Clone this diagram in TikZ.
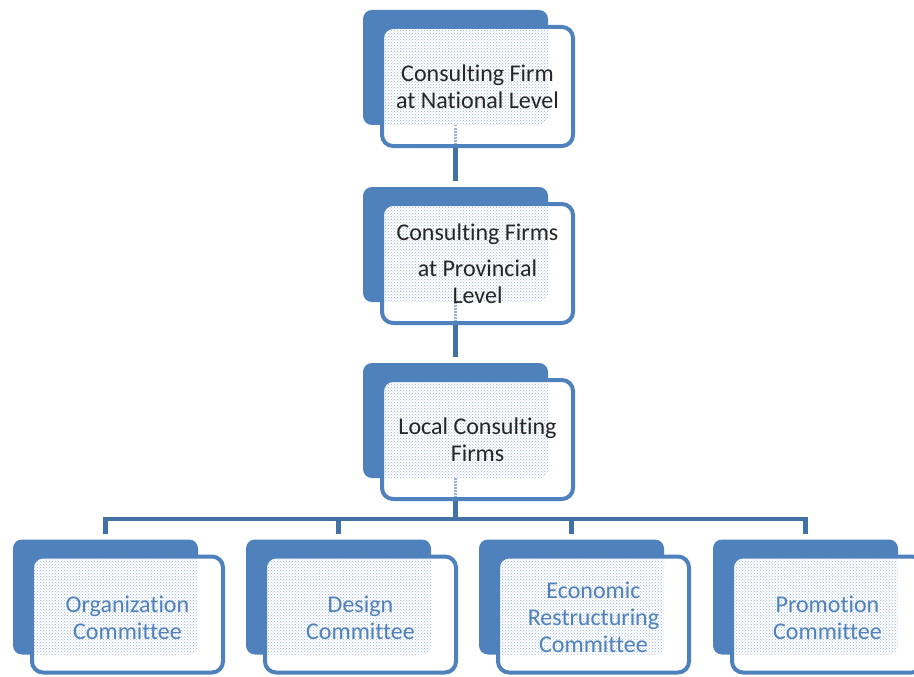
\documentclass[tikz,border=0pt]{standalone}
\usepackage{fontspec}
\setmainfont{Carlito}[Ligatures={NoCommon,NoContextual}]
\usetikzlibrary{patterns}
\definecolor{boxblue}{RGB}{79,129,189}
\definecolor{linkblue}{RGB}{66,114,165}
\definecolor{dotblue}{RGB}{150,180,220}
\definecolor{txtdark}{RGB}{38,38,38}
\tikzset{
  backbox/.style={rectangle, rounded corners=9pt, fill=boxblue, minimum width=185pt, minimum height=115pt, inner sep=0pt, outer sep=0pt},
  frontbox/.style={rectangle, rounded corners=11pt, draw=boxblue, line width=4pt, fill=white, minimum width=191pt, minimum height=#1, inner sep=0pt},
  frontbox/.default=119pt,
  link/.style={draw=linkblue, line width=4.5pt},
  innerlink/.style={draw=dotblue, line width=3pt, dash pattern=on 1.5pt off 1.5pt},
  dots/.style={pattern=crosshatch dots, pattern color=dotblue},
  label/.style={align=center, inner sep=0pt, font=\fontsize{24pt}{27pt}\selectfont},
  darktext/.style={label, text=txtdark},
  bluetext/.style={label, text=boxblue, yshift=-3pt},
}
% #1 name, #2 back x, #3 back y, #4 front min height, #5 front y offset
\newcommand\orgunit[5]{%
  \node[backbox] (#1b) at (#2,#3) {};
  \node[frontbox=#4] (#1) at (#2+22,#3+#5) {};
  \begin{scope}
    \clip[rounded corners=8pt] ([shift={(4pt,4pt)}]#1.south west) rectangle ([shift={(-4pt,-4pt)}]#1.north east);
    \fill[dots, rounded corners=9pt] (#1b.south west) rectangle (#1b.north east);
  \end{scope}
}
\begin{document}
\begin{tikzpicture}[x=1pt, y=-1pt]
\clip (0,0) rectangle (914,677);
\fill[white] (0,0) rectangle (914,677);

\orgunit{u1}{455.5}{67.5}{119pt}{19}
\orgunit{u2}{455.5}{244.5}{119pt}{19}
\orgunit{u3}{455.5}{420.5}{119pt}{19}
\orgunit{u4}{105.5}{597}{116pt}{17.5}
\orgunit{u5}{338.5}{597}{116pt}{17.5}
\orgunit{u6}{571.5}{597}{116pt}{17.5}
\orgunit{u7}{805.5}{597}{116pt}{17.5}

% faint connector continuation inside the front boxes
\draw[innerlink, shorten >=4pt] (u1b.south) -- (u1b.south |- u1.south);
\draw[innerlink, shorten >=4pt] (u2b.south) -- (u2b.south |- u2.south);
\draw[innerlink, shorten >=4pt] (u3b.south) -- (u3b.south |- u3.south);

% connectors
\coordinate (bus) at (455.5,519);
\draw[link, shorten >=6pt] (u1b.south |- u1.south) -- (u2b.north);
\draw[link, shorten >=6pt] (u2b.south |- u2.south) -- (u3b.north);
\draw[link] (u3b.south |- u3.south) -- (bus);
\draw[link, line join=miter, shorten <=6pt, shorten >=6pt] (u4b.north) -- (u4b.north |- bus) -- (u7b.north |- bus) -- (u7b.north);
\draw[link, shorten >=6pt] (u5b.north |- bus) -- (u5b.north);
\draw[link, shorten >=6pt] (u6b.north |- bus) -- (u6b.north);

% texts
\node[darktext] (t1) at (u1) {Consulting Firm\\at National Level};
\node[darktext] (t2) at (u2) {Consulting Firms\\[9pt]at Provincial\\Level};
\node[darktext] (t3) at (u3) {Local Consulting\\Firms};
\node[bluetext] (t4) at (u4) {Organization\\Committee};
\node[bluetext] (t5) at (u5) {Design\\Committee};
\node[bluetext] (t6) at (u6) {Economic\\Restructuring\\Committee};
\node[bluetext] (t7) at (u7) {Promotion\\Committee};
\end{tikzpicture}
\end{document}
